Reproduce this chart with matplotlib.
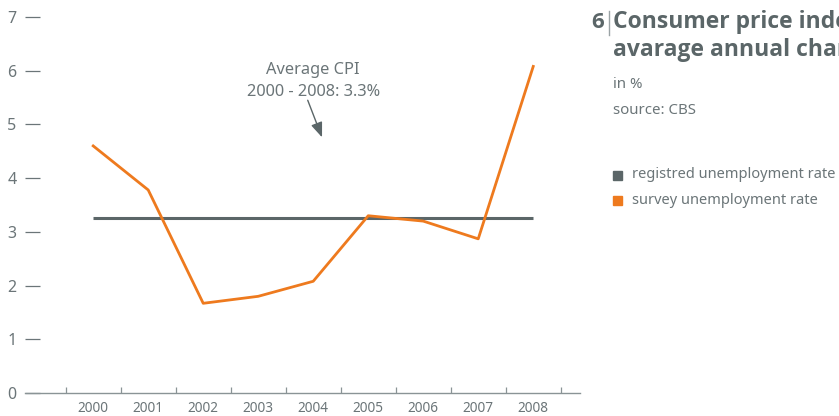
import matplotlib.pyplot as plt
from matplotlib.patches import Rectangle

plt.rcParams['font.family'] = ['Noto Sans', 'DejaVu Sans']

years = [2000, 2001, 2002, 2003, 2004, 2005, 2006, 2007, 2008]
survey = [4.6, 3.78, 1.67, 1.8, 2.08, 3.3, 3.2, 2.87, 6.08]
average_cpi = [3.25] * len(years)
y_ticks = [0, 1, 2, 3, 4, 5, 6, 7]

GRAY = "#5b6668"
TEXT = "#6b7578"
ORANGE = "#ee7a1e"
TITLE_FONT = ['Open Sans', 'DejaVu Sans']

fig = plt.figure(figsize=(8.39, 4.16), dpi=100)
ax = fig.add_axes([25 / 839, 1 - 393 / 416, 555 / 839, 376 / 416])

ax.plot(years, average_cpi, color=GRAY, lw=2.2, solid_capstyle="butt")
ax.plot(years, survey, color=ORANGE, lw=2.0)

ax.set_xlim(1998.76, 2008.85)
ax.set_ylim(0, 7)

for s in ["top", "right", "left"]:
    ax.spines[s].set_visible(False)
ax.spines["bottom"].set_color("#8a9496")
ax.spines["bottom"].set_linewidth(1.0)

ax.set_yticks(y_ticks)
ax.tick_params(axis="y", direction="in", length=11, width=0.9, color=TEXT,
               labelcolor=TEXT, labelsize=11.5, pad=6)
ax.set_xticks(years)
ax.set_xticks([y - 0.5 for y in years] + [2008.5], minor=True)
ax.tick_params(axis="x", which="major", length=0, labelcolor=TEXT, labelsize=9.8, pad=6)
ax.tick_params(axis="x", which="minor", direction="in", length=4, width=0.9, color="#8a9496")

ax.text(2004.0, 6.02, "Average CPI", ha="center", va="center", color=TEXT, fontsize=11.8)
ax.text(2004.0, 5.6, "2000 - 2008: 3.3%", ha="center", va="center", color=TEXT, fontsize=11.8)
ax.annotate("", xy=(2004.16, 4.76), xytext=(2003.9, 5.45),
            arrowprops=dict(arrowstyle="-|>,head_length=0.9,head_width=0.35",
                            color=GRAY, lw=1.0, shrinkA=0, shrinkB=0))

# right-hand caption block (title runs past the figure edge, as in the original)
fig.text(604 / 839, 1 - 22 / 416, "6", ha="right", va="center", color=GRAY,
         fontsize=16, fontweight="bold", family=TITLE_FONT)
fig.add_artist(plt.Line2D([609 / 839, 609 / 839], [1 - 11 / 416, 1 - 35 / 416],
                          color="#9aa3a5", lw=1.0))
fig.text(613 / 839, 1 - 22 / 416, "Consumer price index,", ha="left", va="center",
         color=GRAY, fontsize=16.5, fontweight="bold", family=TITLE_FONT)
fig.text(613 / 839, 1 - 50 / 416, "avarage annual change", ha="left", va="center",
         color=GRAY, fontsize=16.5, fontweight="bold", family=TITLE_FONT)
fig.text(613 / 839, 1 - 85 / 416, "in %", ha="left", va="center", color=TEXT, fontsize=10.8)
fig.text(613 / 839, 1 - 111 / 416, "source: CBS", ha="left", va="center", color=TEXT, fontsize=10.8)

legend_items = [("registred unemployment rate", GRAY), ("survey unemployment rate", ORANGE)]
for i, (label, col) in enumerate(legend_items):
    yc = 175 + i * 25
    fig.add_artist(Rectangle((613 / 839, 1 - (yc + 5) / 416), 9 / 839, 9 / 416,
                             color=col, transform=fig.transFigure))
    fig.text(632 / 839, 1 - yc / 416, label, ha="left", va="center", color=TEXT, fontsize=10.5)

fig.savefig("out.png", dpi=100)
